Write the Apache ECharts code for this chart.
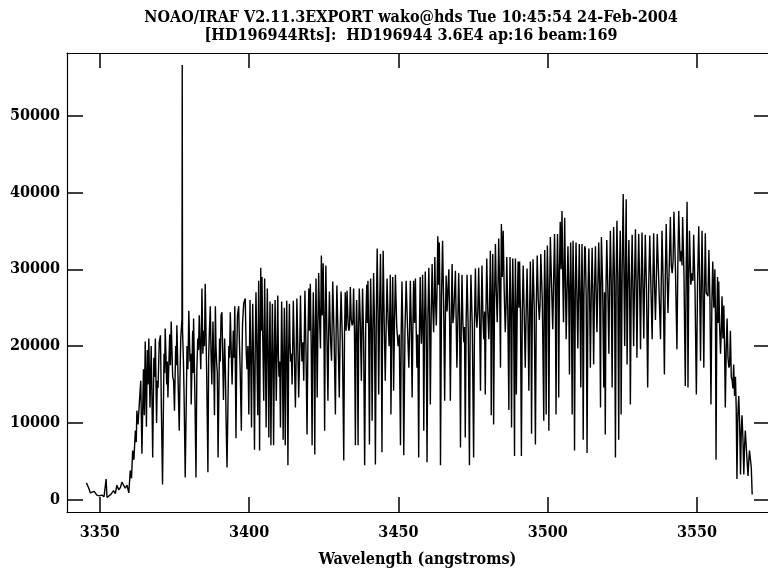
<!DOCTYPE html>
<html>
<head>
<meta charset="utf-8">
<script src="https://cdn.jsdelivr.net/npm/echarts@6/dist/echarts.min.js"></script>
<style>
  html, body { margin: 0; padding: 0; background: #fff; }
  #chart { width: 768px; height: 573px; }
</style>
</head>
<body>
<div id="chart"></div>
<script>
// titles / labels
var titleLine1 = 'NOAO/IRAF V2.11.3EXPORT wako@hds Tue 10:45:54 24-Feb-2004';
var titleLine2 = '[HD196944Rts]:  HD196944 3.6E4 ap:16 beam:169';
var xName = 'Wavelength (angstroms)';
var xTicks = [3350, 3400, 3450, 3500, 3550];
var yTicks = [0, 10000, 20000, 30000, 40000, 50000];

// spectrum: [wavelength (A), counts]
// blue edge up to ~3398
var specBlue = [[3345.5,2200],[3346.3,1500],[3346.8,900],[3347.4,800],[3348.1,1100],[3349.0,600],[3349.8,500],[3350.7,600],[3351.4,400],[3352.1,2700],[3352.4,300],[3353.0,300],[3353.7,700],[3354.6,1200],[3355.2,800],[3355.7,1900],[3356.3,1300],[3356.9,1600],[3357.4,2300],[3358.0,2500],[3358.5,1500],[3359.1,1900],[3359.7,900],[3360.2,3800],[3360.6,2800],[3361.0,6400],[3361.4,5200],[3361.9,9000],[3362.2,7500],[3362.4,11600],[3362.8,9800],[3363.2,12400],[3363.7,15500],[3364.1,6000],[3364.6,17000],[3364.9,11000],[3365.2,20600],[3365.6,9500],[3365.9,19500],[3366.4,21000],[3366.8,12000],[3367.2,20000],[3367.7,5500],[3368.1,18500],[3368.6,21000],[3369.0,10000],[3369.5,14600],[3369.9,20500],[3370.3,21400],[3370.6,12000],[3371.0,2000],[3371.5,19000],[3371.9,22300],[3372.4,15000],[3372.8,13300],[3373.4,21500],[3373.9,23200],[3374.4,16000],[3375.0,11600],[3375.4,20000],[3375.8,22700],[3376.3,14000],[3376.6,9000],[3377.1,21000],[3377.5,23500],[3377.6,56600],[3377.7,22000],[3378.2,14000],[3378.6,2900],[3379.2,20000],[3379.8,24600],[3380.2,18000],[3380.6,12400],[3381.1,22000],[3381.4,23600],[3381.9,12000],[3382.2,2900],[3382.8,21000],[3383.3,24000],[3383.8,17000],[3384.2,27500],[3384.8,22000],[3385.3,28100],[3385.8,16000],[3386.2,3600],[3386.7,22000],[3387.0,25200],[3387.5,15000],[3387.9,23200],[3388.4,11000],[3388.7,25200],[3389.1,18000],[3389.6,5500],[3390.1,21000],[3390.6,24000],[3390.9,24400],[3391.4,13000],[3391.8,21000],[3392.3,10000],[3392.6,4200],[3393.2,20000],[3393.7,24400],[3394.3,15000],[3394.7,22000],[3395.2,25200],[3395.6,8000],[3396.1,24000],[3396.5,25200],[3397.0,17000],[3397.4,9000],[3397.8,23000],[3398.2,25600]];
// 3398 - 3455
var spec3400 = [[3398.7,26200],[3399.3,17000],[3399.9,11100],[3400.3,26000],[3400.8,9400],[3401.2,25500],[3401.8,6500],[3402.3,27000],[3402.9,11000],[3403.2,28500],[3403.5,6400],[3403.9,30200],[3404.3,29000],[3404.9,12900],[3405.2,28800],[3405.7,9400],[3406.1,27500],[3406.6,8100],[3407.0,25800],[3407.3,7100],[3407.8,25500],[3408.2,7100],[3408.7,26000],[3409.1,12900],[3409.6,26600],[3410.0,16000],[3410.5,9400],[3410.9,25800],[3411.4,7800],[3411.8,25000],[3412.1,7100],[3412.6,25900],[3413.0,4500],[3413.5,25500],[3413.9,18000],[3414.4,15000],[3414.8,25900],[3415.5,12000],[3416.0,26200],[3416.6,13300],[3417.2,26600],[3417.7,18000],[3418.3,15500],[3418.7,27200],[3419.4,8500],[3420.0,27500],[3420.5,28100],[3421.1,7100],[3421.5,27000],[3422.0,5900],[3422.4,28800],[3422.8,13300],[3423.3,29500],[3423.9,19700],[3424.2,31800],[3424.8,30800],[3425.3,9000],[3425.7,30500],[3426.4,12900],[3426.9,27100],[3427.6,18100],[3428.0,28400],[3428.9,11100],[3429.4,27900],[3430.2,13300],[3430.8,27100],[3431.7,5100],[3432.2,27000],[3432.8,27200],[3433.4,22000],[3433.9,27700],[3434.5,22700],[3435.0,27500],[3435.6,7100],[3436.0,26000],[3436.5,7100],[3436.9,27500],[3437.6,15500],[3438.0,27500],[3438.7,4500],[3439.4,28000],[3439.8,28500],[3440.3,7200],[3440.7,28800],[3441.2,10300],[3441.7,29500],[3442.3,4600],[3442.9,32700],[3443.4,13700],[3444.0,32000],[3444.5,6200],[3444.9,32400],[3445.6,15500],[3446.2,28800],[3446.9,20000],[3447.3,29300],[3447.5,11100],[3448.1,29000],[3448.4,14200],[3449.0,29300],[3449.9,20000],[3450.7,7100],[3451.2,28400],[3451.8,5800],[3452.6,28500],[3453.5,17200],[3454.0,28500],[3454.6,13300],[3455.1,28500]];
// 3455 - 3512
var spec3450 = [[3455.7,28800],[3456.2,17200],[3456.8,5500],[3457.3,29000],[3457.7,20300],[3458.1,29300],[3458.5,9000],[3459.0,29700],[3459.6,4900],[3460.2,30200],[3460.7,12400],[3461.3,30700],[3461.8,21800],[3462.2,31600],[3462.7,22700],[3463.2,34300],[3463.7,33500],[3464.1,4500],[3464.8,33700],[3465.5,12900],[3466.0,29200],[3466.3,24500],[3466.9,30000],[3467.4,12900],[3468.0,30700],[3468.5,23800],[3469.1,29800],[3469.6,17200],[3470.2,29500],[3470.8,6800],[3471.3,29300],[3471.9,20500],[3472.4,8100],[3473.0,29300],[3473.8,4500],[3474.3,29300],[3475.2,5500],[3475.8,30100],[3476.3,22400],[3476.9,30200],[3477.5,14200],[3478.0,30500],[3478.6,20900],[3479.1,13700],[3479.6,31400],[3480.3,20900],[3480.8,32400],[3481.1,11000],[3481.6,32000],[3481.9,9800],[3482.5,33300],[3483.1,23100],[3483.6,34000],[3484.2,17200],[3484.5,35900],[3485.1,35000],[3485.8,21800],[3486.3,31600],[3487.0,11700],[3487.4,31600],[3487.9,9400],[3488.3,31400],[3488.9,5700],[3489.2,31400],[3489.5,13700],[3490.1,31000],[3490.6,31000],[3491.2,5700],[3491.8,30500],[3492.5,17200],[3493.1,30100],[3493.7,14200],[3494.2,31000],[3494.6,8600],[3495.1,31300],[3495.9,7200],[3496.5,31800],[3497.2,23400],[3497.7,32000],[3498.7,10300],[3499.0,32500],[3499.5,11100],[3499.9,33100],[3500.4,9000],[3500.9,34200],[3501.7,22200],[3502.3,34600],[3502.8,11100],[3503.3,34600],[3503.7,13300],[3504.2,36200],[3504.8,37600],[3505.3,23100],[3505.7,36700],[3506.2,20900],[3506.8,33000],[3507.3,16300],[3507.7,33500],[3508.2,11100],[3508.5,33700],[3509.0,6400],[3509.5,33500],[3510.1,19700],[3510.6,33300],[3511.1,14600],[3511.5,33300],[3511.9,7800],[3512.4,33000]];
// 3512 - red end
var specRed = [[3512.6,32700],[3513.2,6100],[3513.8,32700],[3514.3,17200],[3514.9,32800],[3515.4,17600],[3516.0,33000],[3516.5,21800],[3517.1,33500],[3517.7,12000],[3518.0,34200],[3518.8,14600],[3519.3,8500],[3519.8,33800],[3520.5,19000],[3521.0,35000],[3521.6,14600],[3522.1,35500],[3522.7,5500],[3523.2,36300],[3523.8,7800],[3524.3,35000],[3524.6,11100],[3525.3,39800],[3525.8,20000],[3526.3,39100],[3526.6,17600],[3527.2,33800],[3527.7,12400],[3528.3,34500],[3528.8,20000],[3529.4,35200],[3529.9,18500],[3530.5,34600],[3531.1,19600],[3531.6,34800],[3532.2,21000],[3532.7,34500],[3533.5,14600],[3534.2,34400],[3535.0,20900],[3535.5,34700],[3536.1,23400],[3536.7,34600],[3537.8,20900],[3538.3,35000],[3539.1,16300],[3539.7,35900],[3540.3,24300],[3541.1,36800],[3541.7,29500],[3542.3,37500],[3543.3,19600],[3543.9,37600],[3544.8,32400],[3545.2,36800],[3546.1,14800],[3546.7,38800],[3547.0,14600],[3547.5,35000],[3548.4,29500],[3548.9,34500],[3549.8,13700],[3550.6,35600],[3551.2,18100],[3551.7,35000],[3552.3,17200],[3552.8,34700],[3553.4,27200],[3554.0,32500],[3554.7,12400],[3555.3,31000],[3556.0,30000],[3556.4,5200],[3556.9,29000],[3557.3,28400],[3557.9,19000],[3558.4,26500],[3559.0,25300],[3559.5,12000],[3560.1,23600],[3560.7,17200],[3561.2,22000],[3561.8,15500],[3562.3,17600],[3562.9,16000],[3563.4,2700],[3564.0,13500],[3564.6,3300],[3565.1,11000],[3565.7,3300],[3566.2,9000],[3567.1,3100],[3567.6,6400],[3568.2,4200],[3568.5,700]];

// weak lines that fill the dark band just under the continuum
var weakBlue = [[3366.15,15000],[3367.45,13500],[3368.35,16000],[3369.25,15500],[3370.45,17000],[3371.7,16500],[3372.6,18000],[3373.65,17500],[3374.7,15500],[3375.6,17500],[3376.85,16000],[3378.0,18000],[3379.5,17000],[3380.45,19000],[3381.25,16500],[3382.5,17000],[3383.05,19500],[3384.0,21000],[3384.5,19000],[3385.05,20000],[3386.45,18500],[3387.25,19000],[3388.15,17500],[3388.9,20000],[3389.35,16500],[3390.35,18000],[3391.15,19000],[3392.05,17000],[3393.45,18500],[3394.0,19500],[3394.95,18500],[3395.85,19000],[3396.75,20500],[3397.6,18000],
  [3399.05,19000],[3399.6,20000],[3400.55,18000],[3401.0,19500],[3401.5,17500],[3402.05,20000],[3402.6,19000],[3403.05,21000],[3403.7,20000],[3404.1,22000],[3404.6,20500],[3405.45,19500],[3405.9,21000],[3406.35,18500],[3406.8,19500],[3407.55,18000],[3408.0,17500],[3408.45,19000],[3408.9,18500],[3409.35,20000],[3409.8,19000],[3410.25,18000],[3410.7,17500],[3411.15,19000],[3411.6,18000],[3412.35,18500],[3412.8,17000],[3413.25,19500],[3413.7,20500],[3414.15,19000],[3414.6,20000],[3415.15,19000],[3415.75,18500],[3416.3,20000],[3416.9,18500],[3417.45,21000],[3418.0,20500],[3418.5,21500],[3419.05,19500],[3419.7,21000],[3420.25,22000],[3420.8,20000]];
var weakMid = [[3421.3,21000],[3421.75,20500],[3422.2,22000],[3422.6,21500],[3423.05,23000],[3423.6,23500],[3424.5,24000],[3425.05,22500],[3425.5,23500],[3426.05,21500],[3426.65,22000],[3427.25,21000],[3427.8,22500],[3428.45,21500],[3429.15,22000],[3429.8,21000],[3430.5,22000],[3431.25,20500],[3431.95,21500],[3432.5,22000],[3433.15,23000],[3433.65,22500],[3434.2,23500],[3434.75,23000],[3435.3,21500],[3435.8,22000],[3436.25,21000],[3436.7,22500],[3437.25,23000],[3437.8,22000],[3438.35,21000],[3439.05,22500],[3439.6,23000],[3440.05,22000],[3440.5,22500],[3440.95,23000],[3441.45,22000],[3442.0,22500],[3442.6,24000],[3443.15,25000],[3443.7,24500],[3444.25,23000],[3444.7,24000],[3445.25,23000],[3445.9,22500],[3446.55,23500],[3447.1,24000],[3447.8,22500],[3448.25,23500],[3448.7,23000],[3449.45,22500],[3450.3,21500],[3450.95,22000],[3451.5,21500],[3452.2,22000],[3453.05,22500],[3453.75,22000],[3454.3,23000],[3454.85,22500],[3455.4,23000],
  [3455.95,22500],[3456.5,21500],[3457.05,22000],[3457.5,23000],[3457.9,22500],[3458.3,23500],[3458.75,22500],[3459.3,23000],[3459.9,24000],[3460.45,23500],[3461.0,24500],[3461.55,25000],[3462.0,25500],[3462.45,26000],[3462.95,27500],[3463.45,28000],[3463.9,27000],[3464.45,26500],[3465.15,25500],[3465.75,24000],[3466.6,24500],[3467.15,23500],[3467.7,24000],[3468.25,23000],[3468.8,24000],[3469.35,23500],[3469.9,23000],[3470.5,23500],[3471.05,22500],[3471.6,23000],[3472.15,22500],[3472.7,23500],[3473.4,22000],[3474.05,23000],[3474.75,22500],[3475.5,23500],[3476.05,24000],[3476.6,24500],[3477.2,23500],[3477.75,24500],[3478.3,24000],[3478.85,24500],[3479.35,25000],[3479.95,24500],[3480.55,25500],[3480.95,26000],[3481.35,25000],[3481.75,26500],[3482.2,26000],[3482.8,27000],[3483.35,27500],[3483.9,28000],[3484.35,28500],[3484.8,29000],[3485.45,27000],[3486.05,25000],[3486.65,24500],[3487.2,25000],[3487.65,24000],[3488.1,25000],[3488.6,24000],[3489.05,24500],[3489.35,25000],[3489.8,24500],[3490.35,25000],[3490.9,24000],[3491.5,24500],[3492.15,24000],[3492.8,24500],[3493.4,23500],[3493.95,24500],[3494.4,25000],[3494.85,24500],[3495.5,25000],[3496.2,25500],[3496.85,26000],[3497.45,25500],[3498.2,26000],[3498.85,26500],[3499.25,26000],[3499.7,27000],[3500.15,27500],[3500.65,27000],[3501.3,28000],[3502.0,28500],[3502.55,28000],[3503.05,28500],[3503.5,29000],[3503.95,29500],[3504.5,30000],[3505.05,29500],[3505.5,30000],[3505.95,28500],[3506.5,27500],[3507.05,27000],[3507.5,27500],[3507.95,26500],[3508.35,27000],[3508.75,26500],[3509.25,27000],[3509.8,26500],[3510.35,27000],[3510.85,26000],[3511.3,26500],[3511.7,26000],[3512.15,26500]];
var weakRed = [[3512.9,26500],[3513.5,27000],[3514.05,26500],[3514.6,27000],[3515.15,26500],[3515.7,27500],[3516.25,27000],[3516.8,27500],[3517.4,28000],[3517.85,27500],[3518.4,28000],[3519.05,27000],[3519.55,28000],[3520.15,27500],[3520.75,28500],[3521.3,28000],[3521.85,29000],[3522.4,28000],[3522.95,29000],[3523.5,28500],[3524.05,29000],[3524.45,28000],[3524.95,30000],[3525.55,29500],[3526.05,30000],[3526.45,28500],[3526.9,28000],[3527.45,27500],[3528.0,28000],[3528.55,27500],[3529.1,28500],[3529.65,28000],[3530.2,28500],[3530.8,28000],[3531.35,28500],[3531.9,28000],[3532.45,28500],[3533.1,27500],[3533.85,28000],[3534.6,27500],[3535.25,28500],[3535.8,28000],[3536.4,28500],[3537.25,28000],[3538.05,28500],[3538.7,28000],[3539.4,29000],[3540.0,29500],[3540.7,30000],[3541.4,30500],[3542.0,31000],[3542.8,30000],[3543.6,30500],[3544.35,31000],[3545.0,30500],[3545.65,29500],[3546.4,30000],[3546.85,29000],[3547.25,28500],[3547.95,28000],[3548.65,28500],[3549.35,27500],[3550.2,28000],[3550.9,28500],[3551.45,27500],[3552.0,27000],[3552.55,27500],[3553.1,27000],[3553.7,26500],[3554.35,26000],[3555.0,25500],[3555.65,25000],[3556.2,24000],[3556.65,23500],[3557.1,23000],[3557.6,22500],[3558.15,22000],[3558.7,21000],[3559.25,20000],[3559.8,19500],[3560.4,18500],[3560.95,17500],[3561.5,16000],[3562.05,14500],[3562.6,13500],[3563.15,12000],[3563.7,11000],[3564.3,10000],[3564.85,9000],[3565.4,8000],[3565.95,7000],[3566.65,6000],[3567.35,5000]];

// one wavelength-ordered table for the line
var spectrum = specBlue.concat(spec3400, spec3450, specRed, weakBlue, weakMid, weakRed)
  .sort(function (a, b) { return a[0] - b[0]; });

var xMin = 3339, xMax = 3573.8;
var yMin = -1590, yMax = 58150;

var FONT = "'DejaVu Serif Condensed', 'DejaVu Serif', serif";

var chart = echarts.init(document.getElementById('chart'));
var axisLineStyle = { color: '#000', width: 1.2 };
var tickStyle = { color: '#000', width: 1.5 };
function plain(v) { return String(v); }

var option = {
  animation: false,
  backgroundColor: '#fff',
  grid: { left: 67, top: 53, right: 0, bottom: 58, containLabel: false },
  graphic: [
    { type: 'text', x: 411, y: 18, style: { text: titleLine1, textAlign: 'center', textVerticalAlign: 'middle', font: 'bold 16px ' + FONT, fill: '#000' } },
    { type: 'text', x: 411, y: 36, style: { text: titleLine2, textAlign: 'center', textVerticalAlign: 'middle', font: 'bold 16px ' + FONT, fill: '#000' } }
  ],
  xAxis: [
    {
      type: 'value', min: xMin, max: xMax, position: 'bottom',
      name: xName, nameLocation: 'middle', nameGap: 40,
      nameTextStyle: { fontFamily: FONT, fontWeight: 'bold', fontSize: 16, color: '#000' },
      axisLine: { show: true, onZero: false, lineStyle: axisLineStyle },
      axisTick: { show: true, inside: true, length: 15, customValues: xTicks, lineStyle: tickStyle },
      axisLabel: { customValues: xTicks, margin: 13, formatter: plain, fontFamily: FONT, fontWeight: 'bold', fontSize: 16, color: '#000' },
      splitLine: { show: false }
    },
    {
      type: 'value', min: xMin, max: xMax, position: 'top',
      axisLine: { show: true, onZero: false, lineStyle: axisLineStyle },
      axisTick: { show: true, inside: true, length: 15, customValues: xTicks, lineStyle: tickStyle },
      axisLabel: { show: false },
      splitLine: { show: false }
    }
  ],
  yAxis: [
    {
      type: 'value', min: yMin, max: yMax, position: 'left',
      axisLine: { show: true, onZero: false, lineStyle: axisLineStyle },
      axisTick: { show: true, inside: true, length: 16, customValues: yTicks, lineStyle: tickStyle },
      axisLabel: { customValues: yTicks, margin: 7, formatter: plain, fontFamily: FONT, fontWeight: 'bold', fontSize: 16, color: '#000' },
      splitLine: { show: false }
    },
    {
      type: 'value', min: yMin, max: yMax, position: 'right',
      axisLine: { show: false, onZero: false },
      axisTick: { show: true, inside: true, length: 14, customValues: yTicks, lineStyle: tickStyle },
      axisLabel: { show: false },
      splitLine: { show: false }
    }
  ],
  series: [
    {
      type: 'line',
      xAxisIndex: 0,
      yAxisIndex: 0,
      data: spectrum,
      showSymbol: false,
      symbol: 'none',
      sampling: null,
      lineStyle: { color: '#000', width: 1.4 },
      clip: true
    }
  ]
};
chart.setOption(option);
</script>
</body>
</html>
